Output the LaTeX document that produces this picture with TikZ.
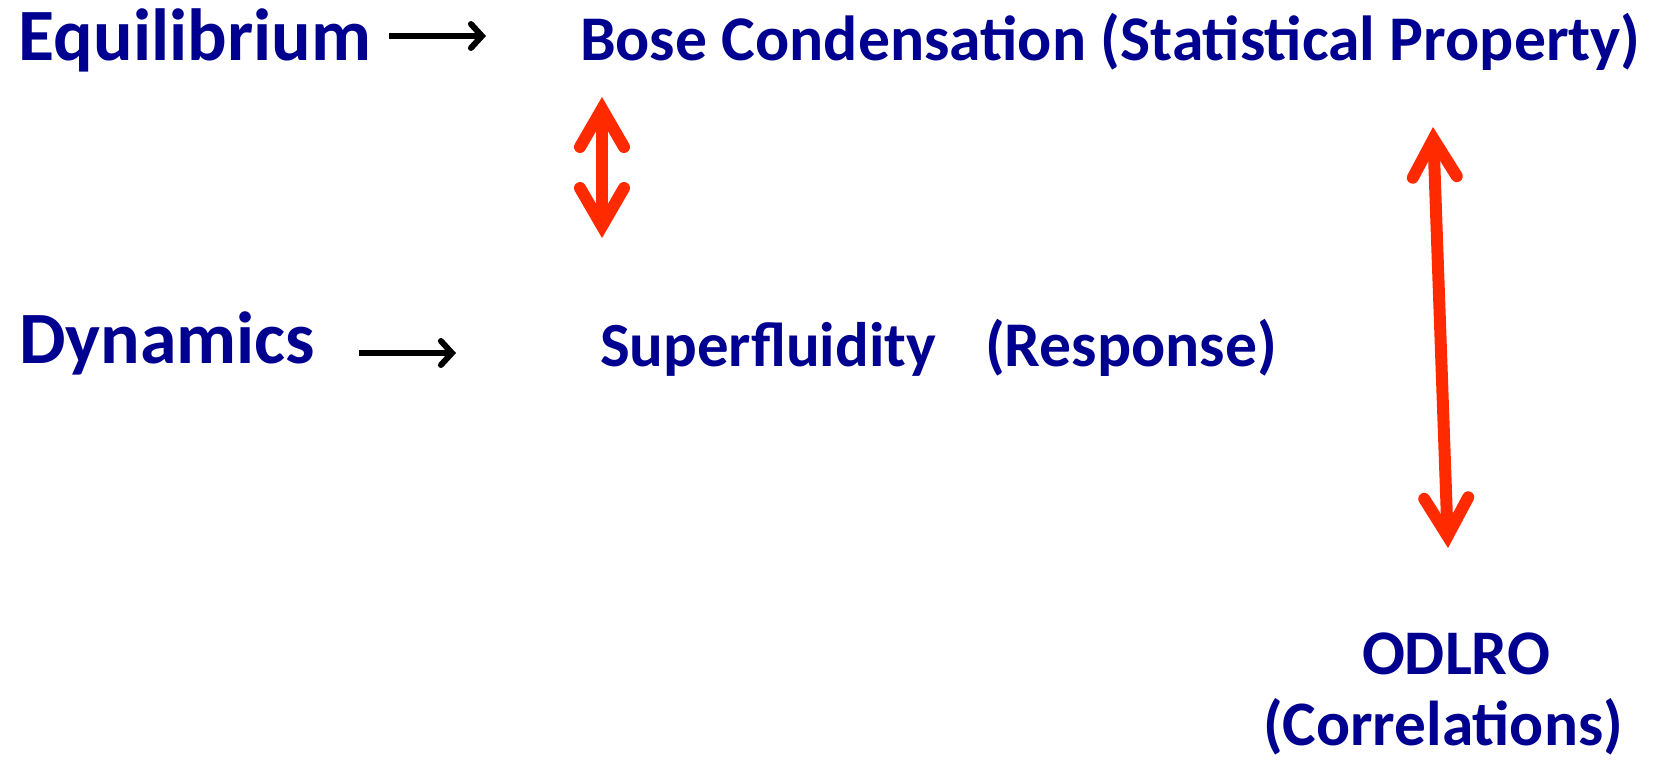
\documentclass[tikz,border=0pt]{standalone}
\usepackage{fontspec}
\usepackage{graphicx}
\setmainfont{Carlito}
\usetikzlibrary{arrows.meta}
\definecolor{navy}{RGB}{0,0,144}
\definecolor{redarr}{RGB}{255,42,0}
\tikzset{
  lbl/.style={inner sep=0pt, outer sep=0pt, text=navy, font=\bfseries, anchor=base west},
  redlink/.style={draw=redarr, line width=12pt,
    {Straight Barb[length=38pt,width=44pt,line cap=round,line join=miter]}-{Straight Barb[length=38pt,width=44pt,line cap=round,line join=miter]}},
  blklink/.style={draw=black, line width=6pt,
    -{Straight Barb[length=11pt,width=24pt,line cap=round,line join=miter]}}
}
\newcommand\fitw[2]{\resizebox{#1pt}{!}{#2}}
\begin{document}
\begin{tikzpicture}[x=1pt,y=-1pt]
  \useasboundingbox (0,0) rectangle (1661,761);
  \node[lbl] (eq) at (19,60) {\fitw{352}{Equilibrium}};
  \node[lbl] (bose) at (580,60) {\fitw{1060}{Bose Condensation (Statistical Property)}};
  \node[lbl] (dyn) at (19,363) {\fitw{296}{Dynamics}};
  \node[lbl] (sup) at (600,366) {\fitw{336}{Superfluidity}};
  \node[lbl] (resp) at (985,366) {\fitw{292}{(Response)}};
  \node[lbl] (odlro) at (1362,674) {\fitw{188}{ODLRO}};
  \node[lbl] (corr) at (1263,745) {\fitw{360}{(Correlations)}};
  % free ends
  \coordinate (eqA) at (389,36);
  \coordinate (eqB) at (486,36);
  \coordinate (dynA) at (359,353);
  \coordinate (dynB) at (456,353);
  \coordinate (r1a) at (602,97);
  \coordinate (r1b) at (602,238);
  \coordinate (r2a) at (1433,127);
  \coordinate (r2b) at (1448,548);
  \draw[blklink] (eqA) -- (eqB);
  \draw[blklink] (dynA) -- (dynB);
  \draw[redlink] (r1a) -- (r1b);
  \draw[redlink] (r2a) -- (r2b);
\end{tikzpicture}
\end{document}
